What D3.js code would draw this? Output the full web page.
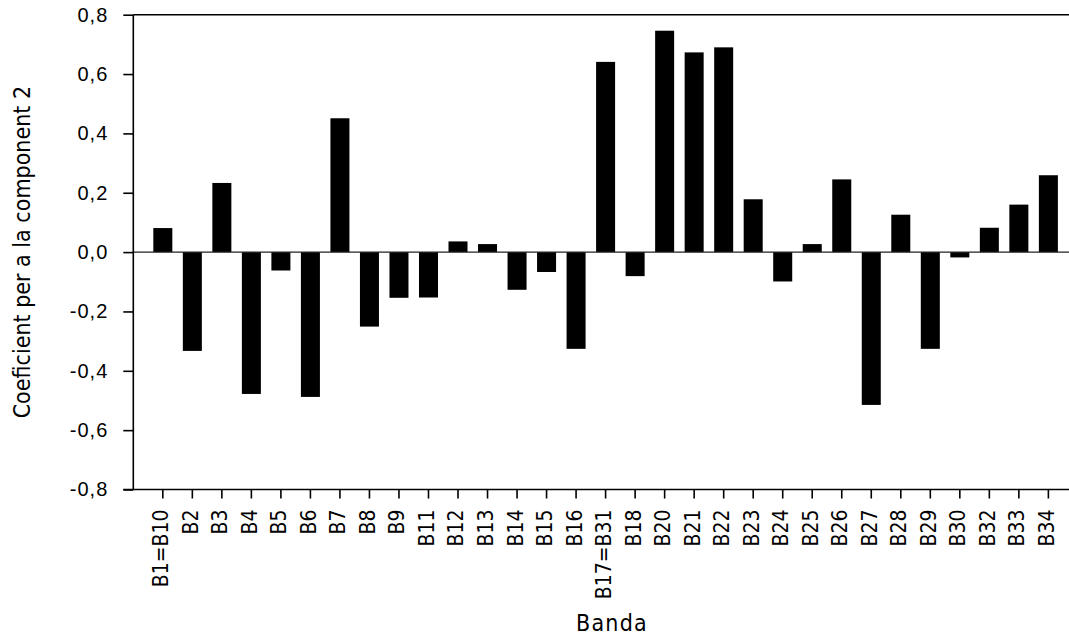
<!DOCTYPE html>
<html>
<head>
<meta charset="utf-8">
<script src="https://cdn.jsdelivr.net/npm/d3@7"></script>
<style>
  html, body { margin: 0; padding: 0; background: #fff; }
  svg { display: block; }
</style>
</head>
<body>
<svg id="chart" width="1069" height="638"></svg>
<script>
// Bands used in the analysis (merged bands shown as "Bx=By")
const bands = ["B1=B10", "B2", "B3", "B4", "B5", "B6", "B7", "B8", "B9", "B11",
  "B12", "B13", "B14", "B15", "B16", "B17=B31", "B18", "B20", "B21", "B22",
  "B23", "B24", "B25", "B26", "B27", "B28", "B29", "B30", "B32", "B33", "B34"];

// Loading of each band on principal component 2
const coefficients = [0.081, -0.333, 0.233, -0.478, -0.062, -0.488, 0.451, -0.251, -0.154, -0.153,
  0.036, 0.027, -0.127, -0.067, -0.326, 0.641, -0.081, 0.746, 0.673, 0.690,
  0.178, -0.099, 0.027, 0.245, -0.515, 0.126, -0.326, -0.018, 0.082, 0.160, 0.259];

const yTickValues = [-0.8, -0.6, -0.4, -0.2, 0.0, 0.2, 0.4, 0.6, 0.8];

const xTitle = "Banda";
const yTitle = "Coeficient per a la component 2";

const svg = d3.select("#chart");

// Plot frame (the right side runs past the visible page edge)
const plotLeft = 133.3, plotTop = 14.7, plotBottom = 489.5, plotRight = 1077.9;

const x = d3.scaleBand()
  .domain(bands)
  .range([plotLeft, plotRight])
  .paddingInner(0.356)
  .paddingOuter(0.678);

const y = d3.scaleLinear()
  .domain([-0.8, 0.8])
  .range([plotBottom, plotTop]);

const fmt = v => d3.format(".1f")(v).replace(".", ",").replace("−", "-");

// Bars
svg.append("g")
  .selectAll("rect")
  .data(coefficients)
  .join("rect")
  .attr("x", (d, i) => x(bands[i]))
  .attr("width", x.bandwidth())
  .attr("y", d => y(Math.max(0, d)))
  .attr("height", d => Math.abs(y(d) - y(0)))
  .attr("fill", "#000");

// Zero reference line
svg.append("line")
  .attr("x1", plotLeft).attr("x2", plotRight)
  .attr("y1", y(0)).attr("y2", y(0))
  .attr("stroke", "#222").attr("stroke-width", 1.2);

// Top frame line
svg.append("line")
  .attr("x1", plotLeft).attr("x2", plotRight)
  .attr("y1", plotTop).attr("y2", plotTop)
  .attr("stroke", "#000").attr("stroke-width", 1.6);

// Y axis
const yAxis = svg.append("g")
  .attr("transform", `translate(${plotLeft},0)`)
  .call(d3.axisLeft(y).tickValues(yTickValues).tickFormat(fmt).tickSize(10).tickPadding(15));
yAxis.select(".domain").attr("stroke-width", 1.6).attr("d", `M0,${plotTop}V${plotBottom}`);
yAxis.selectAll(".tick line").attr("stroke-width", 1.6);
yAxis.selectAll(".tick text")
  .attr("font-family", "'Liberation Sans', Arial, sans-serif")
  .attr("font-size", 20)
  .attr("letter-spacing", 1)
  .attr("fill", "#000");

// X axis with ticks at band centres
const xAxis = svg.append("g")
  .attr("transform", `translate(0,${plotBottom})`)
  .call(d3.axisBottom(x).tickSize(9).tickSizeOuter(0));
xAxis.select(".domain").attr("stroke-width", 1.6).attr("d", `M${plotLeft - 10},0H${plotRight}`);
xAxis.selectAll(".tick line").attr("stroke-width", 1.6);
xAxis.selectAll(".tick text")
  .attr("font-family", "'DejaVu Sans Condensed', 'DejaVu Sans', sans-serif")
  .attr("font-size", 21)
  .attr("fill", "#000")
  .attr("text-anchor", "end")
  .attr("transform", "rotate(-90)")
  .attr("x", -20)
  .attr("y", 0)
  .attr("dy", "0.26em");

// Axis titles
svg.append("text")
  .attr("x", 612)
  .attr("y", 631)
  .attr("text-anchor", "middle")
  .attr("font-family", "'DejaVu Sans Condensed', 'DejaVu Sans', sans-serif")
  .attr("font-size", 23)
  .attr("letter-spacing", 1.2)
  .attr("fill", "#000")
  .text(xTitle);

svg.append("text")
  .attr("transform", `translate(30,${(plotTop + plotBottom) / 2}) rotate(-90)`)
  .attr("text-anchor", "middle")
  .attr("font-family", "'DejaVu Sans Condensed', 'DejaVu Sans', sans-serif")
  .attr("font-size", 23)
  .attr("fill", "#000")
  .text(yTitle);
</script>
</body>
</html>
